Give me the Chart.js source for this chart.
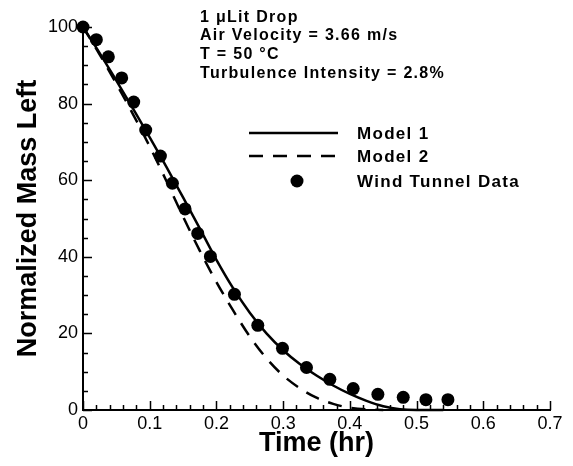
<!DOCTYPE html>
<html>
<head>
<meta charset="utf-8">
<script src="https://cdn.jsdelivr.net/npm/chart.js@4/dist/chart.umd.min.js"></script>
<style>
  html, body { margin: 0; padding: 0; background: #fff; }
  #wrap { width: 573px; height: 466px; }
</style>
</head>
<body>
<div id="wrap"><canvas id="chart"></canvas></div>
<script>
// wind tunnel measurements
const dataTime = [0, 0.02, 0.038, 0.058, 0.076, 0.094, 0.116, 0.134, 0.153, 0.172, 0.191,
  0.227, 0.262, 0.299, 0.335, 0.37, 0.405, 0.442, 0.48, 0.514, 0.547];
const dataMass = [100, 96.7, 92.2, 86.7, 80.4, 73.1, 66.3, 59.2, 52.5, 46.1, 40.1,
  30.2, 22.1, 16.1, 11.1, 8.0, 5.6, 4.1, 3.3, 2.7, 2.7];

// model curves
const model1Time = [0, 0.025, 0.05, 0.075, 0.1, 0.125, 0.15, 0.175, 0.2, 0.225, 0.25,
  0.275, 0.3, 0.325, 0.35, 0.375, 0.4, 0.425, 0.45, 0.475, 0.5, 0.54];
const model1Mass = [100, 93.2, 86.0, 78.7, 71.2, 63.5, 55.5, 47.4, 39.2, 31.8, 25.4,
  20.0, 15.6, 12.0, 9.0, 6.4, 4.2, 2.4, 1.0, 0.2, 0, 0];
const model2Time = [0, 0.025, 0.05, 0.075, 0.1, 0.125, 0.15, 0.175, 0.2, 0.225, 0.25,
  0.275, 0.3, 0.325, 0.35, 0.375, 0.4, 0.425, 0.45];
const model2Mass = [100, 92.8, 85.2, 77.2, 68.8, 59.8, 50.5, 41.6, 33.4, 26.0, 19.2,
  13.5, 9.0, 5.7, 3.2, 1.6, 0.6, 0.15, 0];

const xTicks = { min: 0, max: 0.7, major: 0.1, minor: 0.02 };
const yTicks = { min: 0, max: 100, major: 20, minor: 5 };

const notes = ["1 \u03BCLit Drop", "Air Velocity = 3.66 m/s", "T = 50 \u00B0C",
  "Turbulence Intensity = 2.8%"];
const legendLabels = ["Model 1", "Model 2", "Wind Tunnel Data"];

const FONT = "'Liberation Sans', Arial, Helvetica, sans-serif";

const toXY = (xs, ys) => xs.map((x, i) => ({ x: x, y: ys[i] }));

// inward ticks, notes and legend
const decorations = {
  id: "decorations",
  afterDraw(chart) {
    const ctx = chart.ctx;
    const xs = chart.scales.x;
    const ys = chart.scales.y;
    const area = chart.chartArea;
    ctx.save();
    ctx.strokeStyle = "#000";
    ctx.lineWidth = 1.5;
    ctx.beginPath();
    for (let v = xTicks.min; v <= xTicks.max + 1e-9; v += xTicks.minor) {
      const isMajor = Math.abs(v / xTicks.major - Math.round(v / xTicks.major)) < 1e-6;
      const px = Math.round(xs.getPixelForValue(v)) + 0.5;
      ctx.moveTo(px, area.bottom);
      ctx.lineTo(px, area.bottom - (isMajor ? 9 : 5));
    }
    for (let v = yTicks.min; v <= yTicks.max + 1e-9; v += yTicks.minor) {
      const isMajor = v % yTicks.major === 0;
      const py = Math.round(ys.getPixelForValue(v)) + 0.5;
      ctx.moveTo(area.left, py);
      ctx.lineTo(area.left + (isMajor ? 9 : 5), py);
    }
    ctx.stroke();

    // notes
    ctx.fillStyle = "#000";
    ctx.font = "bold 16px " + FONT;
    ctx.letterSpacing = "1.3px";
    ctx.textBaseline = "alphabetic";
    ctx.textAlign = "left";
    const noteY = [22, 40, 59, 78];
    notes.forEach((t, i) => ctx.fillText(t, 200, noteY[i]));

    // legend
    const ds = chart.data.datasets;
    const rows = [133, 156, 181];
    ctx.lineWidth = 2.5;
    ctx.strokeStyle = ds[1].borderColor;
    ctx.setLineDash([]);
    ctx.beginPath();
    ctx.moveTo(249, rows[0]);
    ctx.lineTo(338, rows[0]);
    ctx.stroke();
    ctx.setLineDash(ds[2].borderDash);
    ctx.beginPath();
    ctx.moveTo(249, rows[1]);
    ctx.lineTo(337, rows[1]);
    ctx.stroke();
    ctx.setLineDash([]);
    ctx.beginPath();
    ctx.arc(297, rows[2], ds[0].pointRadius, 0, Math.PI * 2);
    ctx.fill();
    ctx.font = "bold 17px " + FONT;
    ctx.letterSpacing = "1.3px";
    ctx.textBaseline = "middle";
    legendLabels.forEach((t, i) => ctx.fillText(t, 357, rows[i] + 1));
    ctx.restore();
  }
};

new Chart("chart", {
  type: "line",
  data: {
    datasets: [
      {
        label: legendLabels[2],
        data: toXY(dataTime, dataMass),
        showLine: false,
        pointRadius: 6.5,
        pointHoverRadius: 6.5,
        pointBackgroundColor: "#000",
        pointBorderColor: "#000",
        pointBorderWidth: 0,
        borderColor: "#000",
        order: 0,
      },
      {
        label: legendLabels[0],
        data: toXY(model1Time, model1Mass),
        borderColor: "#000",
        borderWidth: 2.5,
        pointRadius: 0,
        cubicInterpolationMode: "monotone",
        order: 1,
      },
      {
        label: legendLabels[1],
        data: toXY(model2Time, model2Mass),
        borderColor: "#000",
        borderWidth: 2.5,
        borderDash: [14, 10],
        pointRadius: 0,
        cubicInterpolationMode: "monotone",
        order: 2,
      },
    ],
  },
  options: {
    responsive: true,
    maintainAspectRatio: false,
    animation: false,
    clip: false,
    layout: { padding: { top: 27, right: 23, left: 0, bottom: 0 } },
    plugins: {
      legend: { display: false },
      tooltip: { enabled: false },
    },
    scales: {
      x: {
        type: "linear",
        min: xTicks.min,
        max: xTicks.max,
        afterFit: (s) => { s.height = 56; },
        grid: { display: false, drawTicks: false },
        border: { display: true, color: "#000", width: 2 },
        ticks: {
          stepSize: xTicks.major,
          padding: 3,
          color: "#000",
          maxRotation: 0,
          font: { family: FONT, size: 18 },
          callback: (v) => String(+v.toFixed(1)),
        },
        title: {
          display: true,
          text: "Time (hr)",
          color: "#000",
          font: { family: FONT, size: 27, weight: "bold" },
          padding: { top: 0, bottom: 6 },
        },
      },
      y: {
        min: yTicks.min,
        max: yTicks.max,
        afterFit: (s) => { s.width = 83; },
        grid: { display: false, drawTicks: false },
        border: { display: true, color: "#000", width: 2 },
        ticks: {
          stepSize: yTicks.major,
          padding: 5,
          color: "#000",
          font: { family: FONT, size: 18 },
        },
        title: {
          display: true,
          text: "Normalized Mass Left",
          color: "#000",
          font: { family: FONT, size: 27, weight: "bold" },
          padding: { top: 12, bottom: 0 },
        },
      },
    },
  },
  plugins: [decorations],
});
</script>
</body>
</html>
